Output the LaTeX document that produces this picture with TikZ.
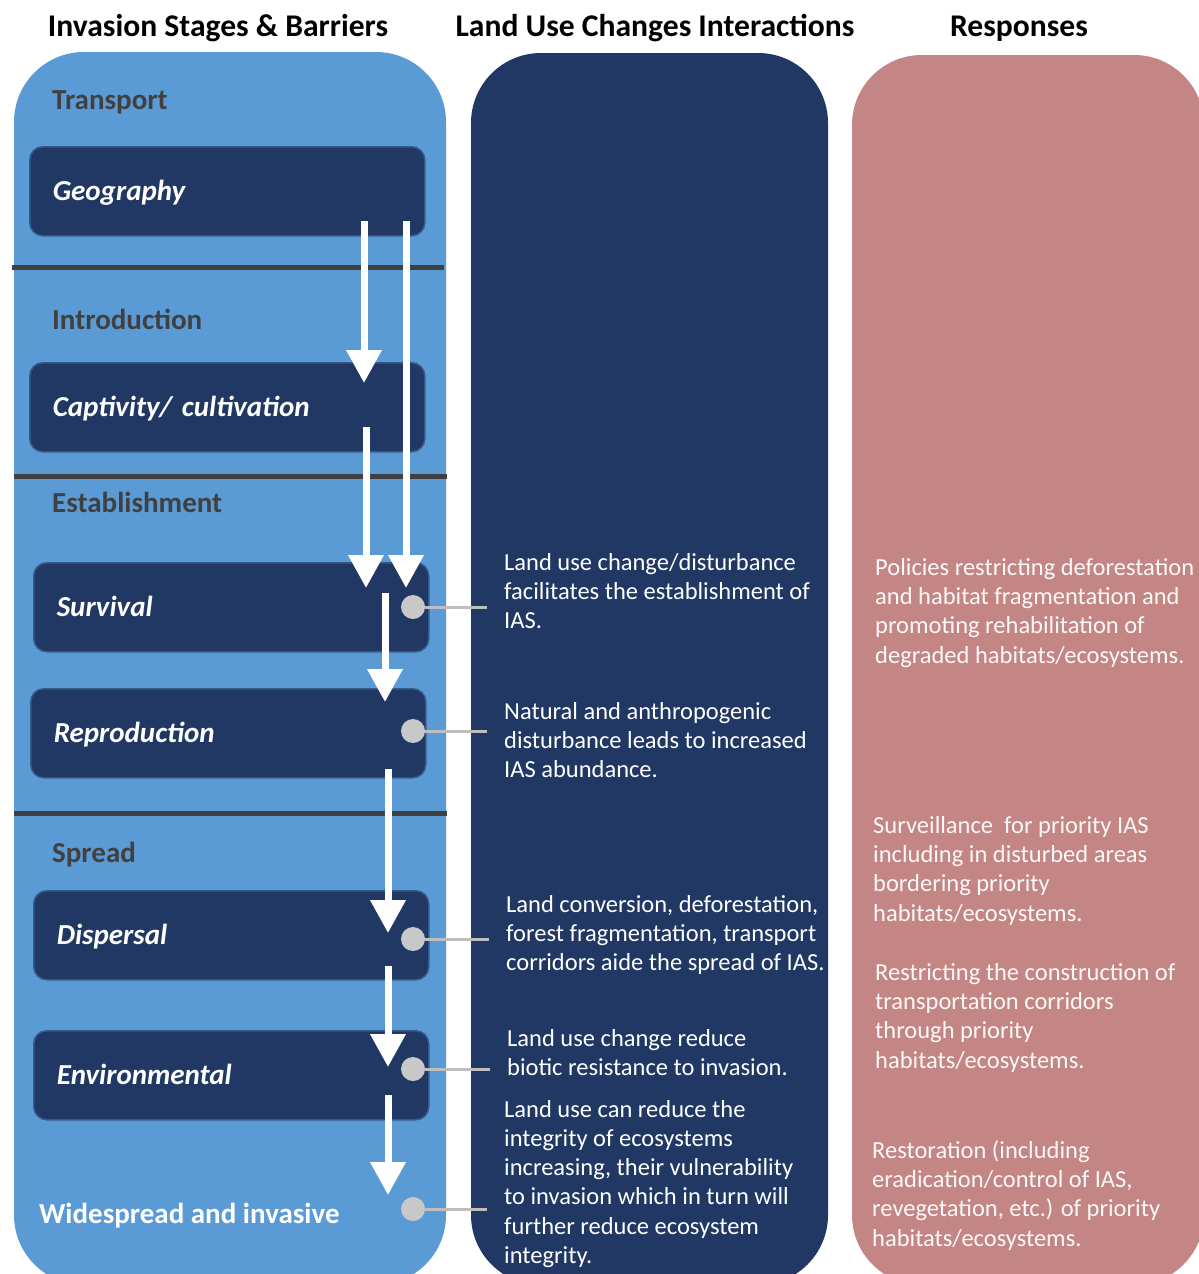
\documentclass[tikz,border=0pt]{standalone}
\usepackage{fontspec}
\setmainfont{Carlito}
\usetikzlibrary{arrows.meta,positioning}
\definecolor{stageblue}{RGB}{91,155,213}
\definecolor{navy}{RGB}{32,56,99}
\definecolor{rosy}{RGB}{195,134,132}
\definecolor{bargray}{RGB}{64,64,64}
\definecolor{dotgray}{RGB}{200,200,200}
\tikzset{
    colhead/.style={anchor=base, font=\fontsize{31.6}{36}\selectfont\bfseries},
    stagelabel/.style={anchor=base west, inner sep=0pt, text=bargray, font=\fontsize{29}{34}\selectfont\bfseries},
    barrier/.style={anchor=north west, draw=navy!65!stageblue, line width=1.5pt, fill=navy, rounded corners=13pt,
        minimum width=395pt, minimum height=89pt, text width=349pt, align=left, inner xsep=23pt,
        text height=18pt, text depth=0pt, text=white, font=\fontsize{29}{34}\selectfont\bfseries\itshape},
    impact/.style={anchor=base west, align=left, inner xsep=17pt, inner ysep=0pt, text=white, font=\fontsize{24.5}{29.3}\selectfont},
    response/.style={impact, inner xsep=0pt, text=white!94!rosy},
    dot/.style={circle, fill=dotgray, minimum size=24pt, inner sep=0pt},
    link/.style={draw=dotgray!95!black, line width=3pt},
    flow/.style={white, line width=7pt, -{Triangle[width=34pt,length=33pt]}},
    divider/.style={bargray, line width=5pt}
}
\begin{document}
\begin{tikzpicture}[x=1pt, y=-1pt]
    \clip (0,0) rectangle (1199,1274);
    \fill[white] (0,0) rectangle (1199,1274);
    % columns
    \fill[stageblue, rounded corners=70pt] (14,52) rectangle (446,1285);
    \fill[navy, rounded corners=70pt] (471,53) rectangle (828,1285);
    \fill[rosy, rounded corners=70pt] (852,55) rectangle (1204,1285);
    % headings
    \node[colhead] (hstage) at (218,36) {Invasion Stages \& Barriers};
    \node[colhead] (hland) at (655,36) {Land Use Changes Interactions};
    \node[colhead] (hresp) at (1019,36) {Responses};
    % stages
    \draw[divider] (12,267) -- (444,267);
    \draw[divider] (14,476) -- (447,476);
    \draw[divider] (14,813) -- (447,813);
    \node[stagelabel] (ltrans) at (52,109) {Transport};
    \node[stagelabel] (lintro) at (52,329) {Introduction};
    \node[stagelabel] (lestab) at (52,512) {Establishment};
    \node[stagelabel] (lspread) at (52,862) {Spread};
    \node[stagelabel, text=white] (lwide) at (39,1223) {Widespread and invasive};
    \node[barrier] (geo) at (29,146) {Geography};
    \node[barrier] (capt) at (29,362) {Captivity/ cultivation};
    \node[barrier] (surv) at (33,562) {Survival};
    \node[barrier] (repro) at (30,688) {Reproduction};
    \node[barrier] (disp) at (33,890) {Dispersal};
    \node[barrier] (env) at (33,1030) {Environmental};
    \foreach \n/\x/\ya/\yb in {1/364/221/383, 2/406/221/588, 3/366/427/588, 4/385/593/702,
            5/388/769/933, 6/388/966/1067, 7/388/1095/1195}
        {
            \coordinate (s\n) at (\x,\ya);
            \coordinate (e\n) at (\x,\yb);
            \draw[flow] (s\n) -- (e\n);
        }
    % land use interactions (placed at the baseline of the last line)
    \node[impact] (t1) at (487,628.6) {Land use change/disturbance\\facilitates the establishment of\\IAS.};
    \node[impact] (t2) at (487,777.6) {Natural and anthropogenic\\disturbance leads to increased\\IAS abundance.};
    \node[impact] (t3) at (489,970.6) {Land conversion, deforestation,\\forest fragmentation, transport\\corridors aide the spread of IAS.};
    \node[impact] (t4) at (490,1075.3) {Land use change reduce\\biotic resistance to invasion.};
    \node[impact] (t5) at (487,1263.5) {Land use can reduce the\\integrity of ecosystems\\increasing, their vulnerability\\to invasion which in turn will\\further reduce ecosystem\\integrity.};
    % responses
    \node[response] (r1) at (875,663) {Policies restricting deforestation\\and habitat fragmentation and\\promoting rehabilitation of\\degraded habitats/ecosystems.};
    \node[response] (r2) at (873,921) {Surveillance\ \ for priority IAS\\including in disturbed areas\\bordering priority\\habitats/ecosystems.};
    \node[response] (r3) at (875,1068) {Restricting the construction of\\transportation corridors\\through priority\\habitats/ecosystems.};
    \node[response] (r4) at (872,1246) {Restoration (including\\eradication/control of IAS,\\revegetation, etc.) of priority\\habitats/ecosystems.};
    \foreach \n/\y/\t in {1/607/t1, 2/731/t2, 3/939/t3, 4/1069/t4, 5/1209/t5}
        {
            \node[dot] (d\n) at (413,\y) {};
            \draw[link] (d\n) -- (d\n -| \t.west);
        }
\end{tikzpicture}
\end{document}
